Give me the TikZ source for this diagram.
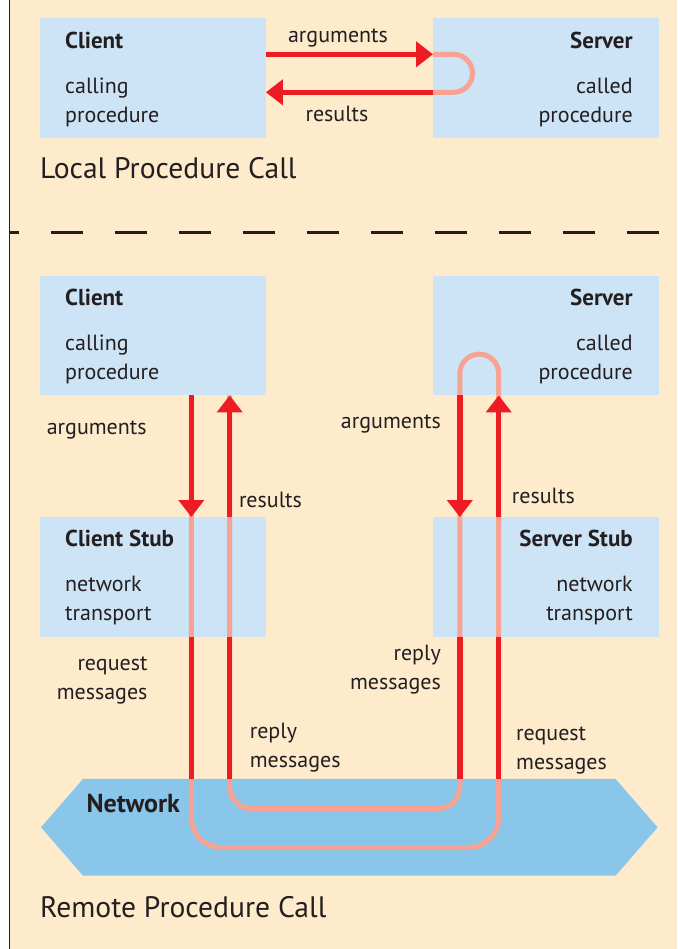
\documentclass[tikz,border=0pt]{standalone}
\usepackage{fontspec}
\setmainfont{PT Sans}
\usetikzlibrary{arrows.meta, positioning, calc, shapes.symbols}
\definecolor{cream}{HTML}{FEEBCC}
\definecolor{boxblue}{HTML}{CDE3F6}
\definecolor{netblue}{HTML}{8AC5EA}
\definecolor{rpcred}{HTML}{ED1C24}
\definecolor{pinkline}{HTML}{F6A394}
\definecolor{ink}{HTML}{231F20}
\tikzset{
  box/.style={fill=boxblue, minimum width=225.5pt, minimum height=119.5pt, inner sep=0pt, anchor=north west},
  lbl/.style={text=ink, inner sep=0pt, font=\fontsize{22}{29}\selectfont},
  head/.style={text=ink, inner sep=0pt, font=\bfseries\fontsize{23}{29}\selectfont},
  caption/.style={text=ink, inner sep=0pt, anchor=west, font=\fontsize{29.6}{36}\selectfont},
  flow/.style={draw=rpcred, line width=5.5pt, -{Triangle[width=25pt,length=17pt]}},
  wire/.style={draw=rpcred, line width=5.5pt},
  loop/.style={draw=pinkline, line width=5pt},
}
\begin{document}
\begin{tikzpicture}[x=1pt, y=-1pt]
	\useasboundingbox (0,0) rectangle (677,949);
	% background and frame
	\fill[white] (0,0) rectangle (9.5,949);
	\fill[cream] (9.5,0) rectangle (677,949);
	\draw[ink, line width=1.5pt] (9.5,0) -- (9.5,949);
	\draw[ink, line width=2.8pt, dash pattern=on 32pt off 32pt] (659,232.3) -- (9.5,232.3);
	
	% columns and rows for the flows
	\coordinate (argrow) at (0,54.3);
	\coordinate (resrow) at (0,92.3);
	\coordinate (c1) at (191.3,0);
	\coordinate (c2) at (229.7,0);
	\coordinate (c3) at (459.8,0);
	\coordinate (c4) at (498.7,0);
	\coordinate (toploop) at (0,373.6);
	\coordinate (hiloop) at (0,808.7);
	\coordinate (lowloop) at (0,847.5);
	
	% Local Procedure Call
	\node[box] (lclient) at (40,18) {};
	\node[box] (lserver) at (433,18) {};
	\node[head, anchor=west] at ([xshift=25pt,yshift=-22pt]lclient.north west) {Client};
	\node[lbl, anchor=west, align=left] at ([xshift=25pt,yshift=-84.5pt]lclient.north west) {calling\\procedure};
	\node[head, anchor=east] at ([xshift=-26pt,yshift=-22pt]lserver.north east) {Server};
	\node[lbl, anchor=east, align=right] at ([xshift=-26pt,yshift=-84.5pt]lserver.north east) {called\\procedure};
	
	\draw[flow] (lclient.east |- argrow) -- (lserver.west |- argrow);
	\draw[loop] (lserver.west |- argrow) -- ++(20.5,0) arc[start angle=90, end angle=-90, radius=19pt] -- (lserver.west |- resrow);
	\draw[flow] (lserver.west |- resrow) -- (lclient.east |- resrow);
	\node[lbl] at (338,38) {arguments};
	\node[lbl] at (337,114) {results};
	\node[caption] at (40,168) {Local Procedure Call};
	
	% Remote Procedure Call
	\node[box] (client) at (40,275.5) {};
	\node[box] (server) at (433,275.5) {};
	\node[box] (cstub) at (40,517) {};
	\node[box] (sstub) at (433,517) {};
	\node[signal, signal to=east and west, signal pointer angle=98, fill=netblue,
		minimum width=616.6pt, minimum height=96.7pt, inner sep=0pt] (net) at (349.3,827.3) {};
	
	\node[head, anchor=west] at ([xshift=25pt,yshift=-21.5pt]client.north west) {Client};
	\node[lbl, anchor=west, align=left] at ([xshift=25pt,yshift=-84pt]client.north west) {calling\\procedure};
	\node[head, anchor=east] at ([xshift=-26pt,yshift=-21.5pt]server.north east) {Server};
	\node[lbl, anchor=east, align=right] at ([xshift=-26pt,yshift=-84pt]server.north east) {called\\procedure};
	\node[head, anchor=west] at ([xshift=25pt,yshift=-21.5pt]cstub.north west) {Client Stub};
	\node[lbl, anchor=west, align=left] at ([xshift=25pt,yshift=-83pt]cstub.north west) {network\\transport};
	\node[head, anchor=east] at ([xshift=-26pt,yshift=-21.5pt]sstub.north east) {Server Stub};
	\node[lbl, anchor=east, align=right] at ([xshift=-26pt,yshift=-83pt]sstub.north east) {network\\transport};
	\node[head, anchor=west, font=\bfseries\fontsize{26}{30}\selectfont] at (86.4,803.3) {Network};
	
	% message loops
	\draw[loop] (server.south -| c4) -- (c4 |- toploop) arc[start angle=0, end angle=180, radius=19.45pt] -- (server.south -| c3);
	\draw[loop, rounded corners=30pt] (client.south -| c1) -- (c1 |- lowloop) -- (c4 |- lowloop) -- (server.south -| c4);
	\draw[loop, rounded corners=22pt] (client.south -| c2) -- (c2 |- hiloop) -- (c3 |- hiloop) -- (server.south -| c3);
	
	% calls between the layers
	\draw[flow] (client.south -| c1) -- (cstub.north -| c1);
	\draw[flow] (cstub.north -| c2) -- (client.south -| c2);
	\draw[flow] (server.south -| c3) -- (sstub.north -| c3);
	\draw[flow] (sstub.north -| c4) -- (server.south -| c4);
	\draw[wire] (cstub.south -| c1) -- (net.north -| c1);
	\draw[wire] (cstub.south -| c2) -- (net.north -| c2);
	\draw[wire] (sstub.south -| c3) -- (net.north -| c3);
	\draw[wire] (sstub.south -| c4) -- (net.north -| c4);
	
	\node[lbl, anchor=west] at (46.6,430) {arguments};
	\node[lbl, anchor=east] at (441,423.5) {arguments};
	\node[lbl, anchor=west] at (238.8,499.5) {results};
	\node[lbl, anchor=west] at (511.7,495.5) {results};
	\node[lbl, anchor=east, align=right] at (147.7,680) {request\\messages};
	\node[lbl, anchor=east, align=right] at (441,669.5) {reply\\messages};
	\node[lbl, anchor=west, align=left] at (249.6,748) {reply\\messages};
	\node[lbl, anchor=west, align=left] at (516,750) {request\\messages};
	\node[caption] at (40,906.7) {Remote Procedure Call};
\end{tikzpicture}
\end{document}
